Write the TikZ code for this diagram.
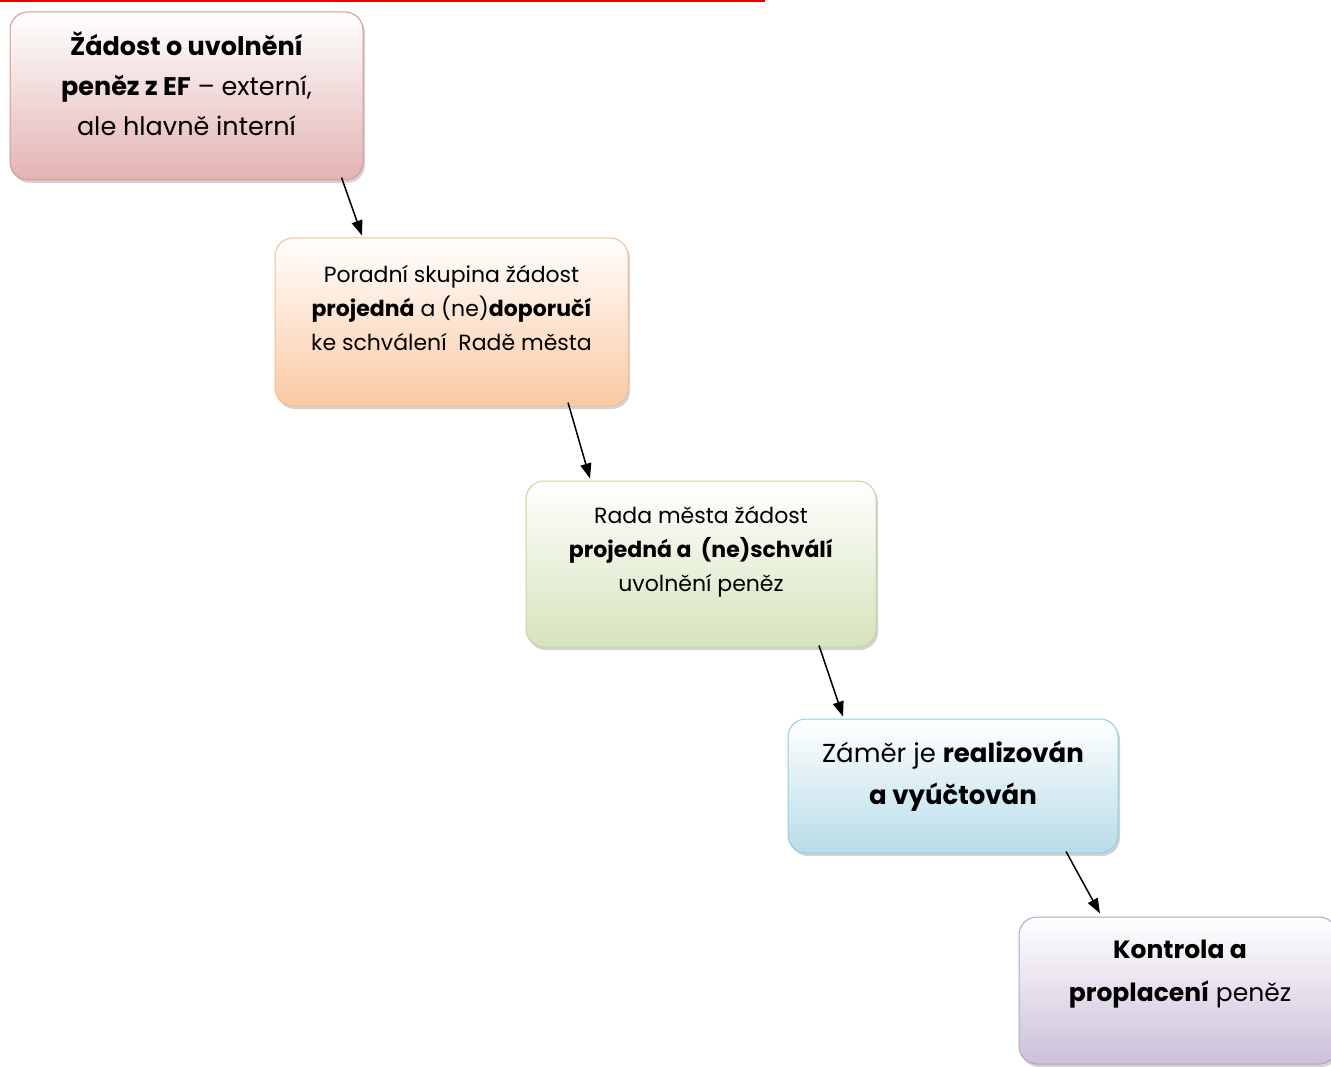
\documentclass[tikz,border=0pt]{standalone}
\usepackage{fontspec}
\setmainfont{Poppins}
\usetikzlibrary{shadows,arrows.meta}
\definecolor{redb}{HTML}{E3B3B3}
\definecolor{redl}{HTML}{D99594}
\definecolor{orab}{HTML}{FAC9A3}
\definecolor{oral}{HTML}{F7BD8E}
\definecolor{greb}{HTML}{D6E3BC}
\definecolor{grel}{HTML}{C3D69B}
\definecolor{blub}{HTML}{B6DDE8}
\definecolor{blul}{HTML}{92CDDC}
\definecolor{purb}{HTML}{CCC0DA}
\definecolor{purl}{HTML}{B2A1C7}
\definecolor{topred}{HTML}{E00000}
\begin{document}
\begin{tikzpicture}[x=1pt,y=-1pt,
  box/.style={rectangle, rounded corners=18pt, line width=1pt, inner sep=0pt,
    drop shadow={opacity=0.35, shadow xshift=2pt, shadow yshift=-3pt}},
  txt/.style={align=center, inner sep=0pt},
  arr/.style={line width=1.5pt, -{Triangle[length=15pt,width=11pt]}}]
\useasboundingbox (0,0) rectangle (1331,1067);
\draw[topred, line width=2.5pt] (0,0.8) coordinate (r0) -- (765,0.8) coordinate (r1);

\node[box, draw=redl, top color=white, bottom color=redb, minimum width=353pt, minimum height=168pt] (b1) at (186.5,96) {};
\node[txt, font=\fontsize{25.5}{40}\selectfont] (t1) at (186.5,84)
  {\textbf{Žádost o uvolnění}\\ \textbf{peněz z EF} – externí,\\ ale hlavně interní};

\node[box, draw=oral, top color=white, bottom color=orab, minimum width=353pt, minimum height=168pt] (b2) at (451.5,322) {};
\node[txt, font=\fontsize{22}{34}\selectfont] (t2) at (451.5,308)
  {Poradní skupina žádost\\ \textbf{projedná} a (ne)\textbf{doporučí}\\ ke schválení\ \ Radě města};

\node[box, draw=grel, top color=white, bottom color=greb, minimum width=350pt, minimum height=166pt] (b3) at (701,564) {};
\node[txt, font=\fontsize{22}{34}\selectfont] (t3) at (701,551.5)
  {Rada města žádost\\ \textbf{projedná a\ \ (ne)schválí}\\ uvolnění peněz};

\node[box, draw=blul, top color=white, bottom color=blub, minimum width=330pt, minimum height=134pt] (b4) at (953,786) {};
\node[txt, font=\fontsize{26}{42}\selectfont] (t4) at (953,776)
  {Záměr je \textbf{realizován}\\ \textbf{a vyúčtován}};

\node[box, draw=purl, top color=white, bottom color=purb, minimum width=318pt, minimum height=147pt] (b5) at (1178,990.5) {};
\node[txt, font=\fontsize{25}{43}\selectfont] (t5) at (1180,974.5)
  {\textbf{Kontrola a}\\ \textbf{proplacení} peněz};

\draw[arr] ([xshift=155pt,yshift=3pt]b1.south) -- ([xshift=-89.5pt,yshift=2pt]b2.north);
\draw[arr] ([xshift=116.5pt,yshift=4pt]b2.south) -- ([xshift=-111pt,yshift=2pt]b3.north);
\draw[arr] ([xshift=118pt,yshift=2pt]b3.south) -- ([xshift=-110pt,yshift=2pt]b4.north);
\draw[arr] ([xshift=113pt,yshift=2pt]b4.south) -- ([xshift=-78pt,yshift=3pt]b5.north);
\end{tikzpicture}
\end{document}
